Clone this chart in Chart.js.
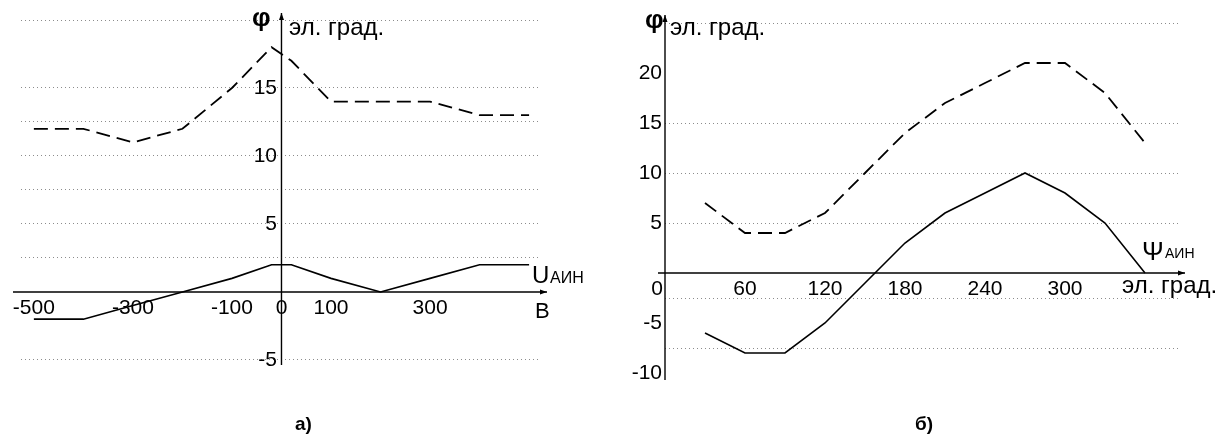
<!DOCTYPE html>
<html>
<head>
<meta charset="utf-8">
<script src="https://cdn.jsdelivr.net/npm/chart.js@4/dist/chart.umd.min.js"></script>
<style>
body { margin: 0; background: #fff; }
#wrap { position: relative; width: 1231px; height: 439px; }
canvas { position: absolute; top: 0; }
#chartA { left: 0; }
#chartB { left: 600px; }
</style>
</head>
<body>
<div id="wrap">
<canvas id="chartA" width="600" height="439"></canvas>
<canvas id="chartB" width="631" height="439"></canvas>
</div>
<script>
// a) phase vs U_AIN, volts
var leftX = [-500, -400, -300, -200, -100, -20, 20, 100, 200, 300, 400, 500];
var leftDashed = [12, 12, 11, 12, 15, 18, 17, 14, 14, 14, 13, 13];
var leftSolid = [-2, -2, -1, 0, 1, 2, 2, 1, 0, 1, 2, 2];
var leftXTicks = [-500, -300, -100, 0, 100, 300];
var leftYTicks = [-5, 0, 2.5, 5, 7.5, 10, 12.5, 15, 20];
var leftYGrid = [-5, 2.5, 5, 7.5, 10, 12.5, 15, 20];
var leftYLabels = [-5, 5, 10, 15];

// b) phase vs psi_AIN, el. degrees
var rightX = [30, 60, 90, 120, 150, 180, 210, 240, 270, 300, 330, 360];
var rightDashed = [7, 4, 4, 6, 10, 14, 17, 19, 21, 21, 18, 13];
var rightSolid = [-6, -8, -8, -5, -1, 3, 6, 8, 10, 8, 5, 0];
var rightXTicks = [60, 120, 180, 240, 300];
var rightYTicks = [-10, -7.5, -5, -2.5, 0, 5, 10, 15, 20, 25];
var rightYGrid = [-7.5, -2.5, 5, 10, 15, 25];
var rightYLabels = [-10, -5, 5, 10, 15, 20];

var FONT = "'Liberation Sans', Arial, sans-serif";
Chart.defaults.font.family = FONT;
Chart.defaults.color = '#000';

function pts(xs, ys) {
    return xs.map(function (x, i) { return {x: x, y: ys[i]}; });
}

function xAxis(min, max, tickVals, pad) {
    return {
        type: 'linear', position: {y: 0}, min: min, max: max,
        afterBuildTicks: function (s) { s.ticks = tickVals.map(function (v) { return {value: v}; }); },
        afterFit: function (s) { s.height = 0; s.paddingLeft = 0; s.paddingRight = 0; },
        grid: { display: false, drawTicks: false },
        border: { display: false },
        ticks: { padding: pad, autoSkip: false, maxRotation: 0, font: { size: 21 } }
    };
}

// pos: where the tick labels are anchored (labels sit right-aligned against it)
function yAxis(pos, min, max, tickVals, gridVals, labelVals) {
    return {
        type: 'linear', position: pos, min: min, max: max,
        afterBuildTicks: function (s) { s.ticks = tickVals.map(function (v) { return {value: v}; }); },
        afterFit: function (s) { s.width = 0; s.paddingTop = 0; s.paddingBottom = 0; },
        grid: {
            drawTicks: false, lineWidth: 1,
            color: function (c) {
                return c.tick && gridVals.indexOf(c.tick.value) >= 0 ? '#8c8c8c' : 'rgba(0,0,0,0)';
            }
        },
        border: { display: false, dash: [1, 3] },
        ticks: {
            autoSkip: false, font: { size: 21 },
            callback: function (v) { return labelVals.indexOf(v) >= 0 ? String(v) : ''; }
        }
    };
}

function arrow(c, x1, y1, x2, y2) {
    c.beginPath(); c.moveTo(x1, y1); c.lineTo(x2, y2); c.stroke();
    var a = Math.atan2(y2 - y1, x2 - x1), L = 7, W = 2.5;
    c.beginPath();
    c.moveTo(x2, y2);
    c.lineTo(x2 - L * Math.cos(a) + W * Math.sin(a), y2 - L * Math.sin(a) - W * Math.cos(a));
    c.lineTo(x2 - L * Math.cos(a) - W * Math.sin(a), y2 - L * Math.sin(a) + W * Math.cos(a));
    c.closePath(); c.fill();
}

function text(c, s, x, y, size, bold) {
    c.font = (bold ? 'bold ' : '') + size + 'px ' + FONT;
    c.fillText(s, x, y);
}

function lineSets(xs, dashed, solid) {
    return [
        { data: pts(xs, dashed), borderColor: '#000', borderWidth: 1.8, borderDash: [14, 7], pointRadius: 0, tension: 0, fill: false },
        { data: pts(xs, solid), borderColor: '#000', borderWidth: 1.6, pointRadius: 0, tension: 0, fill: false }
    ];
}

function drawAxes(chart, l, r, t) {
    var c = chart.ctx, a = chart.chartArea;
    var x0 = chart.scales.x.getPixelForValue(0), y0 = chart.scales.y.getPixelForValue(0);
    c.save();
    c.strokeStyle = '#000'; c.fillStyle = '#000'; c.lineWidth = 1.4;
    arrow(c, a.left - l, y0, a.right + r, y0);
    arrow(c, x0, a.bottom, x0, a.top - t);
    c.restore();
}

var axesA = {
    id: 'axesA',
    beforeDatasetsDraw: function (chart) { drawAxes(chart, 8, 9, 7); },
    afterDraw: function (chart) {
        var c = chart.ctx;
        c.save();
        c.fillStyle = '#000'; c.textBaseline = 'alphabetic'; c.textAlign = 'left';
        text(c, 'φ', 252, 26, 26, true);
        text(c, 'эл. град.', 289, 35, 24);
        text(c, 'U', 532, 283, 24);
        text(c, 'АИН', 550, 283, 16);
        text(c, 'В', 535, 318, 22);
        text(c, 'а)', 295, 430, 19, true);
        c.restore();
    }
};

var axesB = {
    id: 'axesB',
    beforeDatasetsDraw: function (chart) { drawAxes(chart, 7, 7, 8); },
    afterDraw: function (chart) {
        var c = chart.ctx;
        var x0 = chart.scales.x.getPixelForValue(0), y0 = chart.scales.y.getPixelForValue(0);
        c.save();
        c.fillStyle = '#000'; c.textBaseline = 'alphabetic'; c.textAlign = 'left';
        text(c, 'φ', 45, 28, 26, true);
        text(c, 'эл. град.', 70, 35, 24);
        text(c, 'Ψ', 542, 260, 26);
        text(c, 'АИН', 565, 258, 14);
        text(c, 'эл. град.', 522, 293, 24);
        text(c, 'б)', 315, 430, 19, true);
        c.textAlign = 'right';
        text(c, '0', x0 - 2, y0 + 22, 21);
        c.restore();
    }
};

new Chart(document.getElementById('chartA'), {
    type: 'line',
    data: { datasets: lineSets(leftX, leftDashed, leftSolid) },
    options: {
        responsive: false, animation: false,
        layout: { padding: { left: 21, right: 62, top: 20, bottom: 74 } },
        plugins: { legend: { display: false }, tooltip: { enabled: false } },
        scales: {
            x: xAxis(-526, 518, leftXTicks, 4),
            y: yAxis({x: -9}, -5.37, 20, leftYTicks, leftYGrid, leftYLabels)
        }
    },
    plugins: [axesA]
});

new Chart(document.getElementById('chartB'), {
    type: 'line',
    data: { datasets: lineSets(rightX, rightDashed, rightSolid) },
    options: {
        responsive: false, animation: false,
        layout: { padding: { left: 65, right: 53, top: 23, bottom: 59 } },
        plugins: { legend: { display: false }, tooltip: { enabled: false } },
        scales: {
            x: xAxis(0, 384.75, rightXTicks, 4),
            y: yAxis({x: -2.25}, -10.7, 25, rightYTicks, rightYGrid, rightYLabels)
        }
    },
    plugins: [axesB]
});
</script>
</body>
</html>
